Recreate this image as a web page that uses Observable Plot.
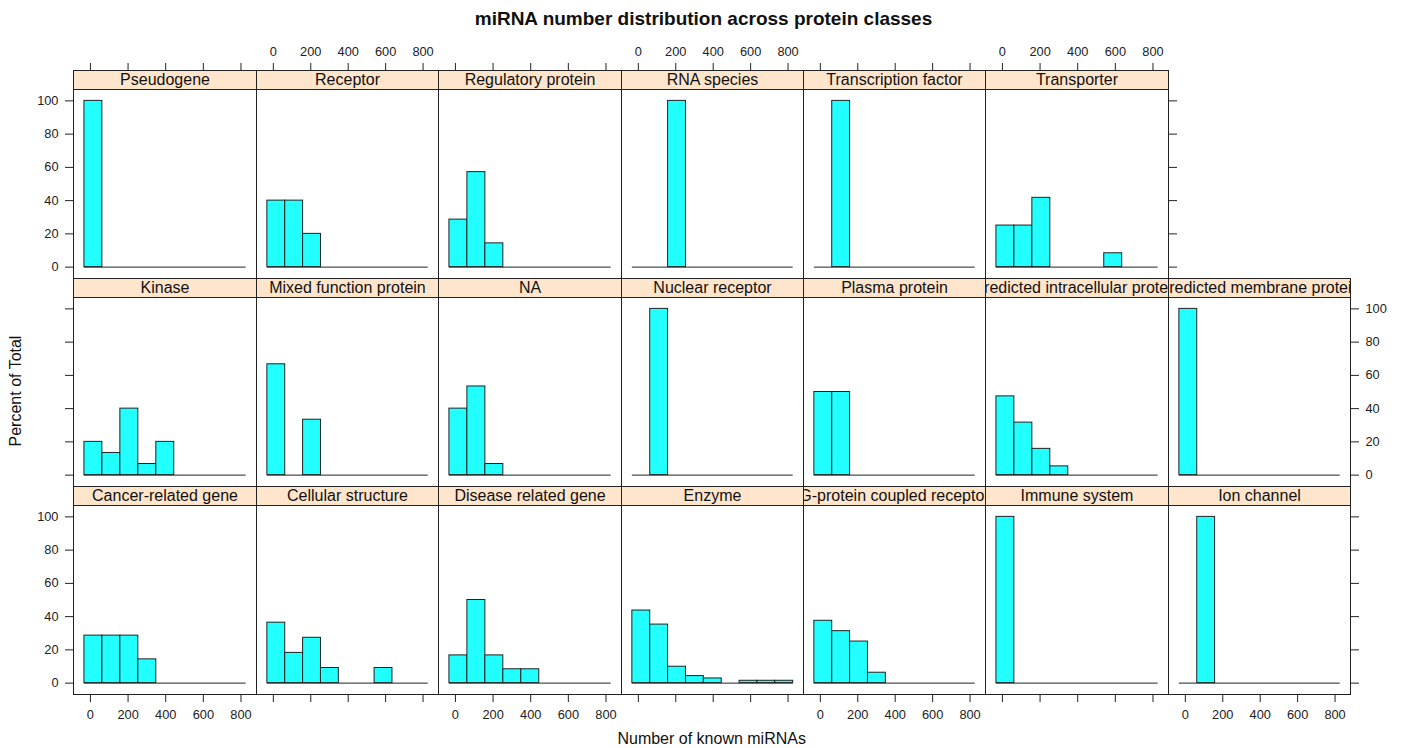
<!DOCTYPE html>
<html><head><meta charset="utf-8">
<script src="https://cdn.jsdelivr.net/npm/d3@7"></script>
<script src="https://cdn.jsdelivr.net/npm/@observablehq/plot@0.6"></script>
<style>
html,body{margin:0;padding:0;background:#fff;}
#root{position:relative;width:1407px;height:748px;font-family:"Liberation Sans",Arial,Helvetica,sans-serif;color:#111;overflow:hidden;}
.strip{position:absolute;box-sizing:border-box;border:1px solid #222;background:#ffe5cc;display:flex;justify-content:center;align-items:center;overflow:hidden;white-space:nowrap;font-size:16px;line-height:1;}
.lbl{position:absolute;white-space:nowrap;line-height:1;}
#root svg{position:absolute;}
</style></head><body><div id="root"></div>
<script>
// ---- data ----
const title = "miRNA number distribution across protein classes";
const xLabel = "Number of known miRNAs";
const yLabel = "Percent of Total";
const classes = ["Cancer-related gene", "Cellular structure", "Disease related gene", "Enzyme",
  "G-protein coupled receptor", "Immune system", "Ion channel", "Kinase", "Mixed function protein",
  "NA", "Nuclear receptor", "Plasma protein", "Predicted intracellular protein",
  "Predicted membrane protein", "Pseudogene", "Receptor", "Regulatory protein", "RNA species",
  "Transcription factor", "Transporter"];
const breaks = [-32, 63.5, 159, 254.5, 350, 445.5, 541, 636.5, 732, 827.5];
const xTicks = [0, 200, 400, 600, 800];
const yTicks = [0, 20, 40, 60, 80, 100];
const pctCancer = [28.57, 28.57, 28.57, 14.29, 0, 0, 0, 0, 0];
const pctCellular = [36.36, 18.18, 27.27, 9.09, 0, 0, 9.09, 0, 0];
const pctDisease = [16.67, 50, 16.67, 8.33, 8.33, 0, 0, 0, 0];
const pctEnzyme = [43.66, 35.21, 9.86, 4.23, 2.82, 0, 1.41, 1.41, 1.41];
const pctGPCR = [37.5, 31.25, 25, 6.25, 0, 0, 0, 0, 0];
const pctImmune = [100, 0, 0, 0, 0, 0, 0, 0, 0];
const pctIon = [0, 100, 0, 0, 0, 0, 0, 0, 0];
const pctKinase = [20, 13.33, 40, 6.67, 20, 0, 0, 0, 0];
const pctMixed = [66.67, 0, 33.33, 0, 0, 0, 0, 0, 0];
const pctNA = [40, 53.33, 6.67, 0, 0, 0, 0, 0, 0];
const pctNuclear = [0, 100, 0, 0, 0, 0, 0, 0, 0];
const pctPlasma = [50, 50, 0, 0, 0, 0, 0, 0, 0];
const pctPredIntra = [47.37, 31.58, 15.79, 5.26, 0, 0, 0, 0, 0];
const pctPredMembrane = [100, 0, 0, 0, 0, 0, 0, 0, 0];
const pctPseudogene = [100, 0, 0, 0, 0, 0, 0, 0, 0];
const pctReceptor = [40, 40, 20, 0, 0, 0, 0, 0, 0];
const pctRegulatory = [28.57, 57.14, 14.29, 0, 0, 0, 0, 0, 0];
const pctRNA = [0, 0, 100, 0, 0, 0, 0, 0, 0];
const pctTF = [0, 100, 0, 0, 0, 0, 0, 0, 0];
const pctTransporter = [25, 25, 41.67, 0, 0, 0, 8.33, 0, 0];
const series = [pctCancer, pctCellular, pctDisease, pctEnzyme, pctGPCR, pctImmune, pctIon,
  pctKinase, pctMixed, pctNA, pctNuclear, pctPlasma, pctPredIntra, pctPredMembrane,
  pctPseudogene, pctReceptor, pctRegulatory, pctRNA, pctTF, pctTransporter];

// ---- layout / style ----
const LINE = "#222", FILL = "#22ffff";
const X_DOMAIN = [-90, 882.5], Y_DOMAIN = [-6.85, 106.85];
const colEdges = d3.range(8).map(c => Math.round(73.3 + 182.43 * c));
const rowTops = [70, 278, 486], rowBottoms = [278, 486, 694];
const SH = 19, ML = 70, MR = 70, MB = 40;
const root = document.getElementById("root");
const style = {fontFamily: '"Liberation Sans", Arial, Helvetica, sans-serif', fontSize: "12.8px", color: LINE, background: "transparent", overflow: "visible"};
const show = d => String(d), hide = () => "";

function place(el, left, top) { el.style.left = left + "px"; el.style.top = top + "px"; root.appendChild(el); }

classes.forEach((name, i) => {
  const row = 2 - Math.floor(i / 7), col = i % 7;
  const left = colEdges[col], pw = colEdges[col + 1] - left;
  const top = rowTops[row] + SH, ph = rowBottoms[row] - top;
  const bins = series[i].map((p, k) => ({x1: breaks[k], x2: breaks[k + 1], p})).filter(d => d.p > 0);
  const lastInRow = row === 0 ? col === 5 : col === 6;
  const marks = [
    Plot.ruleY([0], {x1: breaks[0], x2: breaks[breaks.length - 1], stroke: LINE}),
    Plot.rectY(bins, {x1: "x1", x2: "x2", y1: 0, y2: "p", fill: FILL, stroke: LINE}),
    Plot.frame({stroke: LINE})
  ];
  if (col === 0) marks.push(Plot.axisY({anchor: "left", ticks: yTicks, tickSize: 8, tickPadding: 7, tickFormat: row === 1 ? hide : show, label: null}));
  if (lastInRow) marks.push(Plot.axisY({anchor: "right", ticks: yTicks, tickSize: 8, tickPadding: 7, tickFormat: row === 1 ? show : hide, label: null}));
  if (row === 2) marks.push(Plot.axisX({anchor: "bottom", ticks: xTicks, tickSize: 8, tickPadding: 7, tickFormat: col % 2 === 0 ? show : hide, label: null}));
  const svg = Plot.plot({
    width: pw + ML + MR, height: ph + MB, marginLeft: ML, marginRight: MR, marginTop: 0, marginBottom: MB,
    x: {domain: X_DOMAIN, axis: null}, y: {domain: Y_DOMAIN, axis: null}, style, marks
  });
  place(svg, left - ML, top);
  if (row === 0) {
    const ax = Plot.plot({
      width: pw + ML + MR, height: 31, marginLeft: ML, marginRight: MR, marginTop: 30, marginBottom: 1,
      x: {domain: X_DOMAIN, axis: null}, style,
      marks: [Plot.axisX({anchor: "top", ticks: xTicks, tickSize: 8, tickPadding: 7, tickFormat: col % 2 === 1 ? show : hide, label: null})]
    });
    place(ax, left - ML, rowTops[0] - 30);
  }
  const strip = document.createElement("div");
  strip.className = "strip";
  strip.style.width = (pw + 1) + "px";
  strip.style.height = (SH + 1) + "px";
  const sp = document.createElement("span"); sp.textContent = name; strip.appendChild(sp);
  place(strip, left, rowTops[row]);
});

const t = document.createElement("div"); t.className = "lbl"; t.textContent = title;
t.style.fontSize = "19px"; t.style.fontWeight = "bold"; t.style.width = "1407px"; t.style.textAlign = "center";
place(t, 0, 9);
const xl = document.createElement("div"); xl.className = "lbl"; xl.textContent = xLabel;
xl.style.fontSize = "16px"; xl.style.width = "600px"; xl.style.textAlign = "center";
place(xl, 711.7 - 300, 731);
const yl = document.createElement("div"); yl.className = "lbl"; yl.textContent = yLabel;
yl.style.fontSize = "16px"; yl.style.width = "300px"; yl.style.textAlign = "center";
yl.style.transform = "rotate(-90deg)"; yl.style.transformOrigin = "150px 8px";
place(yl, 16 - 150, 391 - 8);
</script></body></html>
